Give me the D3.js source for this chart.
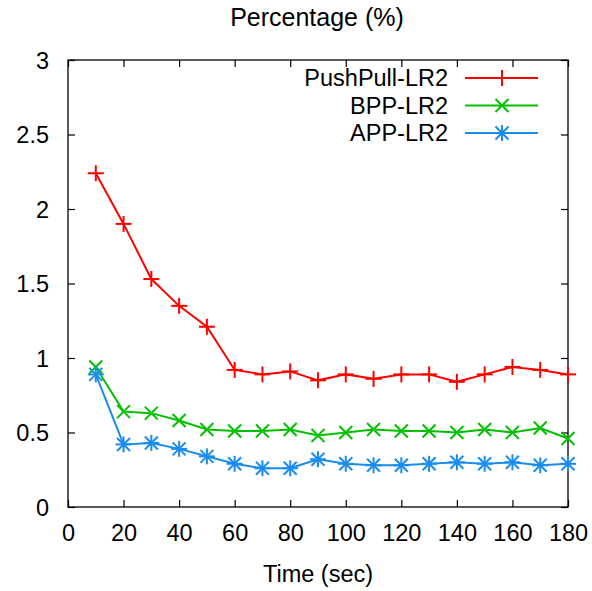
<!DOCTYPE html>
<html><head><meta charset="utf-8">
<script src="https://cdn.jsdelivr.net/npm/d3@7"></script>
<style>body{margin:0;background:#fff}svg{display:block}text{font-family:"Liberation Sans",Arial,sans-serif;fill:#000}</style>
</head><body>
<script>
const times = [10,20,30,40,50,60,70,80,90,100,110,120,130,140,150,160,170,180];
const pushPull = [2.24,1.90,1.53,1.35,1.21,0.92,0.89,0.91,0.85,0.89,0.86,0.89,0.89,0.84,0.89,0.94,0.92,0.89];
const bpp = [0.94,0.64,0.63,0.58,0.52,0.51,0.51,0.52,0.48,0.50,0.52,0.51,0.51,0.50,0.52,0.50,0.53,0.46];
const app = [0.89,0.42,0.43,0.39,0.34,0.29,0.26,0.26,0.32,0.29,0.28,0.28,0.29,0.30,0.29,0.30,0.28,0.29];
const seriesNames = ["PushPull-LR2","BPP-LR2","APP-LR2"];
const seriesColors = ["#ff0000","#00c000","#1a8cf0"];
const xTicks = [0,20,40,60,80,100,120,140,160,180];
const yTicks = [0,0.5,1,1.5,2,2.5,3];
const title = "Percentage (%)";
const xLabel = "Time (sec)";

const W=592,H=591, L=68,R=568,T=60,B=507;
const svg=d3.select("body").append("svg").attr("width",W).attr("height",H);
const x=d3.scaleLinear().domain([0,180]).range([L,R]);
const y=d3.scaleLinear().domain([0,3]).range([B,T]);
const fs=23.5;

svg.append("rect").attr("x",L).attr("y",T).attr("width",R-L).attr("height",B-T).attr("fill","none").attr("stroke","#000").attr("stroke-width",1.3);
const tl=7;
const gx=svg.append("g").attr("transform",`translate(0,${B})`).call(d3.axisBottom(x).tickValues(xTicks).tickSize(-tl).tickPadding(18).tickFormat(d3.format("d")));
const gxt=svg.append("g").attr("transform",`translate(0,${T})`).call(d3.axisTop(x).tickValues(xTicks).tickSize(-tl).tickFormat(""));
const gy=svg.append("g").attr("transform",`translate(${L},0)`).call(d3.axisLeft(y).tickValues(yTicks).tickSize(-tl).tickPadding(19).tickFormat(d=>String(d)));
const gyr=svg.append("g").attr("transform",`translate(${R},0)`).call(d3.axisRight(y).tickValues(yTicks).tickSize(-tl).tickFormat(""));
[gx,gxt,gy,gyr].forEach(g=>{g.select(".domain").remove();g.selectAll("line").attr("stroke","#000").attr("stroke-width",1.2);g.selectAll("text").attr("font-size",fs).attr("font-family","Liberation Sans, Arial, sans-serif").attr("fill","#000");});
gx.selectAll("text").attr("dy","0.68em");
gy.selectAll("text").attr("dy","0.36em");

svg.append("text").attr("x",317).attr("y",26).attr("text-anchor","middle").attr("font-size",25).text(title);
svg.append("text").attr("x",318).attr("y",582).attr("text-anchor","middle").attr("font-size",fs).text(xLabel);

const data=[pushPull,bpp,app];
const line=d3.line().x((d,i)=>x(times[i])).y(d=>y(d));
function marker(g,type,cx,cy,color){
  const s=8, sx=6.5;
  const p=[];
  if(type===0){p.push([cx-s,cy,cx+s,cy],[cx,cy-s,cx,cy+s]);}
  else if(type===1){p.push([cx-sx,cy-sx,cx+sx,cy+sx],[cx-sx,cy+sx,cx+sx,cy-sx]);}
  else {p.push([cx-s,cy,cx+s,cy],[cx,cy-s,cx,cy+s],[cx-sx,cy-sx,cx+sx,cy+sx],[cx-sx,cy+sx,cx+sx,cy-sx]);}
  p.forEach(q=>g.append("line").attr("x1",q[0]).attr("y1",q[1]).attr("x2",q[2]).attr("y2",q[3]).attr("stroke",color).attr("stroke-width",2));
}
data.forEach((vals,k)=>{
  const g=svg.append("g");
  g.append("path").datum(vals).attr("d",line).attr("fill","none").attr("stroke",seriesColors[k]).attr("stroke-width",2);
  vals.forEach((v,i)=>marker(g,k,x(times[i]),y(v),seriesColors[k]));
});
seriesNames.forEach((n,k)=>{
  const yy=78+k*27.5;
  svg.append("text").attr("x",448).attr("y",yy).attr("dy","0.36em").attr("text-anchor","end").attr("font-size",fs).text(n);
  svg.append("line").attr("x1",465).attr("x2",538).attr("y1",yy).attr("y2",yy).attr("stroke",seriesColors[k]).attr("stroke-width",2);
  marker(svg,k,502,yy,seriesColors[k]);
});
</script>
</body></html>
